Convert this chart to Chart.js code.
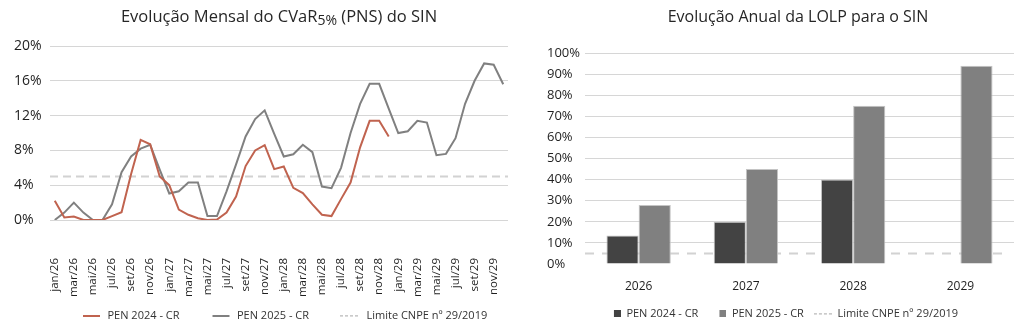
<!DOCTYPE html>
<html>
<head>
<meta charset="utf-8">
<script src="https://cdn.jsdelivr.net/npm/chart.js@4/dist/chart.umd.min.js"></script>
<style>
html,body{margin:0;padding:0;background:#fff;}
#wrap{position:relative;width:1024px;height:332px;overflow:hidden;font-family:"Open Sans",sans-serif;}
.panel{position:absolute;top:0;height:332px;}
#p1{left:0;width:520px;}
#p2{left:520px;width:504px;}
.panel canvas{position:absolute;left:0;top:0;}
.title{position:absolute;top:6px;text-align:center;font-size:16px;line-height:20px;color:#262626;white-space:nowrap;}
#t1{left:38px;right:0;font-size:16.5px;}
#t2{left:52px;right:0;}
.title .sub{font-size:14px;position:relative;top:3px;}
</style>
</head>
<body>
<div id="wrap">
  <div class="panel" id="p1">
    <canvas id="c1" width="520" height="332"></canvas>
    <div class="title" id="t1">Evolução Mensal do CVaR<span class="sub">5%</span> (PNS) do SIN</div>
  </div>
  <div class="panel" id="p2">
    <canvas id="c2" width="504" height="332"></canvas>
    <div class="title" id="t2">Evolução Anual da LOLP para o SIN</div>
  </div>
</div>
<script>
// ---------- DATA ----------
const months = [
  'jan/26','fev/26','mar/26','abr/26','mai/26','jun/26','jul/26','ago/26','set/26','out/26','nov/26','dez/26',
  'jan/27','fev/27','mar/27','abr/27','mai/27','jun/27','jul/27','ago/27','set/27','out/27','nov/27','dez/27',
  'jan/28','fev/28','mar/28','abr/28','mai/28','jun/28','jul/28','ago/28','set/28','out/28','nov/28','dez/28',
  'jan/29','fev/29','mar/29','abr/29','mai/29','jun/29','jul/29','ago/29','set/29','out/29','nov/29','dez/29'
];
const pen2024Monthly = [
  2.2, 0.3, 0.4, 0.0, 0.0, 0.0, 0.45, 0.9, 5.3, 9.2, 8.7, 5.0,
  4.0, 1.2, 0.6, 0.2, 0.0, 0.05, 0.85, 2.7, 6.2, 8.0, 8.6, 5.85,
  6.15, 3.7, 3.1, 1.8, 0.6, 0.45, 2.4, 4.3, 8.35, 11.4, 11.4, 9.6,
  null, null, null, null, null, null, null, null, null, null, null, null
];
const pen2025Monthly = [
  0.0, 0.85, 2.0, 0.85, 0.0, 0.0, 1.8, 5.5, 7.3, 8.2, 8.65, 5.8,
  3.05, 3.3, 4.3, 4.3, 0.45, 0.45, 3.3, 6.4, 9.6, 11.6, 12.6, 9.9,
  7.3, 7.55, 8.65, 7.8, 3.85, 3.65, 6.0, 10.0, 13.35, 15.65, 15.65, 12.8,
  10.0, 10.2, 11.4, 11.2, 7.45, 7.6, 9.4, 13.35, 16.0, 18.0, 17.85, 15.6
];
const cvarLimit = 5;
const cvarTicks = [0, 4, 8, 12, 16, 20];

const years = ['2026', '2027', '2028', '2029'];
const pen2024Annual = [13.5, 20, 40, null];
const pen2025Annual = [28, 45, 75, 94];
const lolpLimit = 5;
const lolpTicks = [0, 10, 20, 30, 40, 50, 60, 70, 80, 90, 100];

const seriesNames = ['PEN 2024 - CR', 'PEN 2025 - CR', 'Limite CNPE nº 29/2019'];

// ---------- STYLE ----------
const FONT = '"Open Sans", sans-serif';
const RED = '#c0634f';
const GRAY = '#808080';
const DARK = '#434343';
const LIGHT = '#808080';
const BAR_EDGE = '#c4c4c4';
const LIMIT = '#d2d2d2';
const GRID = '#d6d6d6';
const TXT = '#1f1f1f';
const LEG = '#333333';

function sample(w, h, draw) {
  const c = document.createElement('canvas');
  c.width = w; c.height = h;
  draw(c.getContext('2d'));
  return c;
}
const leftSamples = [
  sample(50, 2, g => { g.fillStyle = RED; g.fillRect(31, 0, 17, 2); }),
  sample(50, 2, g => { g.fillStyle = GRAY; g.fillRect(31, 0, 17, 2); }),
  sample(50, 2, g => { g.fillStyle = '#b8b8b8'; for (let x = 29; x < 48; x += 5) g.fillRect(x, 0, 3, 1.5); })
];
const rightSamples = [
  sample(18, 7, g => { g.fillStyle = DARK; g.fillRect(11, 0, 7, 7); }),
  sample(18, 7, g => { g.fillStyle = LIGHT; g.fillRect(11, 0, 7, 7); }),
  sample(18, 2, g => { g.fillStyle = '#b8b8b8'; for (let x = 0; x < 18; x += 5) g.fillRect(x, 0, 3, 1.5); })
];

// dashed limit line drawn through the y scale of the bar chart
const limitLinePlugin = {
  id: 'limitLine',
  beforeDatasetsDraw(chart, args, opts) {
    const y = chart.scales.y.getPixelForValue(opts.value);
    const a = chart.chartArea;
    const g = chart.ctx;
    g.save();
    g.strokeStyle = opts.color;
    g.lineWidth = opts.width;
    g.setLineDash(opts.dash);
    g.beginPath();
    g.moveTo(a.left, y);
    g.lineTo(a.right - opts.endInset, y);
    g.stroke();
    g.restore();
  }
};

// ---------- LEFT: monthly CVaR ----------
new Chart(document.getElementById('c1'), {
  type: 'line',
  data: {
    labels: months,
    datasets: [
      { label: seriesNames[0], data: pen2024Monthly, borderColor: RED, backgroundColor: RED,
        borderWidth: 2, pointRadius: 0, tension: 0, order: 0 },
      { label: seriesNames[1], data: pen2025Monthly, borderColor: GRAY, backgroundColor: GRAY,
        borderWidth: 2, pointRadius: 0, tension: 0, order: 0 },
      { label: seriesNames[2], data: [{x: 0, y: cvarLimit}, {x: 1, y: cvarLimit}], xAxisID: 'xl',
        borderColor: LIMIT, backgroundColor: LIMIT, borderWidth: 2, borderDash: [8, 5],
        pointRadius: 0, order: 1 }
    ]
  },
  options: {
    responsive: false,
    animation: false,
    layout: { autoPadding: false, padding: { top: 46, left: 14, right: 12, bottom: 1 } },
    plugins: {
      tooltip: { enabled: false },
      legend: {
        position: 'bottom',
        align: 'start',
        fullSize: false,
        labels: {
          usePointStyle: true, pointStyleWidth: 50, padding: 2,
          font: { family: FONT, size: 11 }, color: LEG,
          generateLabels(chart) {
            const items = Chart.defaults.plugins.legend.labels.generateLabels(chart);
            items.forEach(it => { it.pointStyle = leftSamples[it.datasetIndex]; });
            return items;
          }
        }
      }
    },
    scales: {
      x: {
        type: 'category',
        offset: true,
        grid: { display: true, drawOnChartArea: false, drawTicks: true, tickLength: 36, color: 'rgba(0,0,0,0)' },
        border: { display: false },
        ticks: {
          autoSkip: false, maxRotation: 90, minRotation: 90, padding: 2,
          font: { family: FONT, size: 11.5 }, color: TXT,
          callback: (v, i) => (i % 2 === 0 ? months[i] : null)
        },
        afterFit: s => { s.height = 88; }
      },
      xl: { type: 'linear', display: false, min: 0, max: 1 },
      y: {
        min: 0, max: 20,
        afterBuildTicks: s => { s.ticks = cvarTicks.map(v => ({ value: v })); },
        grid: { color: GRID, lineWidth: 1, drawTicks: false },
        border: { display: false },
        ticks: {
          crossAlign: 'far', padding: 8,
          font: { family: FONT, size: 14 }, color: TXT,
          callback: v => v + '%'
        },
        afterFit: s => { s.width = 36; }
      }
    }
  }
});

// ---------- RIGHT: annual LOLP ----------
new Chart(document.getElementById('c2'), {
  type: 'bar',
  data: {
    labels: years,
    datasets: [
      { label: seriesNames[0], data: pen2024Annual, backgroundColor: DARK, borderColor: BAR_EDGE, borderWidth: 1 },
      { label: seriesNames[1], data: pen2025Annual, backgroundColor: LIGHT, borderColor: BAR_EDGE, borderWidth: 1 }
    ]
  },
  plugins: [limitLinePlugin],
  options: {
    responsive: false,
    animation: false,
    datasets: { bar: { categoryPercentage: 0.6, barPercentage: 1.0 } },
    layout: { autoPadding: false, padding: { top: 53, left: 27, right: 10, bottom: 3 } },
    plugins: {
      tooltip: { enabled: false },
      limitLine: { value: lolpLimit, color: LIMIT, width: 2, dash: [9, 8], endInset: 12 },
      legend: {
        position: 'bottom',
        align: 'center',
        fullSize: true,
        labels: {
          usePointStyle: true, pointStyleWidth: 18, padding: 10,
          font: { family: FONT, size: 11 }, color: LEG,
          generateLabels(chart) {
            const items = Chart.defaults.plugins.legend.labels.generateLabels(chart);
            items.forEach(it => { it.pointStyle = rightSamples[it.datasetIndex]; });
            items.push({
              text: seriesNames[2], fillStyle: LIMIT, strokeStyle: LIMIT, lineWidth: 0,
              hidden: false, pointStyle: rightSamples[2], fontColor: LEG
            });
            return items;
          }
        }
      }
    },
    scales: {
      x: {
        grid: { display: false },
        border: { display: false },
        ticks: { padding: 7, font: { family: FONT, size: 12 }, color: TXT },
        afterFit: s => { s.height = 34; }
      },
      y: {
        min: 0, max: 100,
        afterBuildTicks: s => { s.ticks = lolpTicks.map(v => ({ value: v })); },
        grid: { color: c => (c.tick && c.tick.value === 0 ? 'rgba(0,0,0,0)' : GRID), lineWidth: 1, drawTicks: false },
        border: { display: false },
        ticks: {
          crossAlign: 'far', padding: 5,
          font: { family: FONT, size: 13 }, color: TXT,
          callback: v => v + '%'
        },
        afterFit: s => { s.width = 38; }
      }
    }
  }
});
</script>
</body>
</html>
